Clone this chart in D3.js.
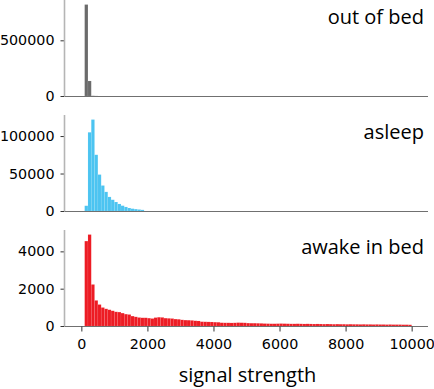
<!DOCTYPE html>
<html><head><meta charset="utf-8">
<script src="https://cdn.jsdelivr.net/npm/d3@7"></script>
<style>html,body{margin:0;padding:0;background:#fff;}svg{display:block;}</style>
</head><body>
<script>
// bins start at 100, width 100
const binStart = 100, binWidth = 100;
const outOfBed = [821000, 135000, 2000, 800];
const asleep = [7000, 105000, 122000, 75000, 48600, 34000, 25500, 18800, 15000, 12000, 9400, 7100, 5400, 4000, 3100, 2500, 2000, 1500];
const awakeInBed = [4550, 4900, 2225, 1370, 1150, 990, 920, 870, 815, 760, 745, 690, 635, 615, 530, 490, 455, 440, 440, 420,
  400, 450, 470, 460, 420, 410, 400, 370, 360, 330, 315, 310, 300, 280, 270, 230, 225, 220, 215, 205,
  200, 175, 170, 170, 165, 170, 180, 175, 170, 155, 150, 150, 145, 140, 130, 125, 120, 120, 125, 130,
  125, 120, 115, 115, 120, 115, 110, 115, 110, 105, 110, 105, 100, 105, 100, 95, 100, 95, 95, 90,
  95, 90, 90, 85, 90, 85, 85, 80, 85, 80, 80, 75, 80, 75, 75, 75, 70, 70, 65];
const panelNames = ["out of bed", "asleep", "awake in bed"];
const yTicks = [[0, 500000], [0, 50000, 100000], [0, 2000, 4000]];
const xTicks = [0, 2000, 4000, 6000, 8000, 10000];
const xLabel = "signal strength";

const W = 434, H = 389;
const svg = d3.select("body").append("svg").attr("width", W).attr("height", H);
const x = d3.scaleLinear().domain([-495, 10495]).range([65, 428]);
const colors = ["#6b6b6b", "#4cc4f1", "#ed1c24"];
const series = [outOfBed, asleep, awakeInBed];
const panelTop = [0, 115, 230], panelH = 96;

series.forEach((vals, p) => {
  const top = panelTop[p], base = top + panelH;
  const y = d3.scaleLinear().domain([0, d3.max(vals) * 1.05]).range([base, top]);
  const g = svg.append("g");
  const data = vals.map((v, i) => ({x0: binStart + i * binWidth, x1: binStart + (i + 1) * binWidth, v}));
  g.selectAll("rect").data(data).join("rect")
    .attr("x", d => x(d.x0)).attr("width", d => x(d.x1) - x(d.x0))
    .attr("y", d => y(d.v)).attr("height", d => base - y(d.v))
    .attr("fill", colors[p]).attr("stroke", "#fff").attr("stroke-opacity", 0.15).attr("stroke-width", 0.5);
  // y axis
  const ya = g.append("g").attr("transform", "translate(64.5,0)")
    .call(d3.axisLeft(y).tickValues(yTicks[p]).tickSize(4).tickPadding(6).tickFormat(d3.format("d")));
  ya.select(".domain").remove();
  ya.selectAll(".tick line").attr("stroke", "#333");
  ya.selectAll(".tick text").attr("font-family", "DejaVu Sans").attr("font-size", 14.3).attr("fill", "#000");
  g.append("line").attr("x1", 64.5).attr("x2", 64.5).attr("y1", top).attr("y2", base)
    .attr("stroke", "#b5b5b5").attr("stroke-width", 1.6);
  // x baseline
  g.append("line").attr("x1", 65).attr("x2", 428).attr("y1", base + 0.5).attr("y2", base + 0.5)
    .attr("stroke", "#707070").attr("stroke-width", 1);
  g.append("text").attr("x", 424).attr("y", top + 24).attr("text-anchor", "end")
    .attr("font-family", "Open Sans").attr("font-size", 20).attr("fill", "#000").text(panelNames[p]);
  if (p === 2) {
    const xa = svg.append("g").attr("transform", `translate(0,${base + 0.5})`)
      .call(d3.axisBottom(x).tickValues(xTicks).tickSize(5).tickPadding(7).tickFormat(d3.format("d")));
    xa.select(".domain").remove();
    xa.selectAll(".tick line").attr("stroke", "#333");
    xa.selectAll(".tick text").attr("font-family", "DejaVu Sans").attr("font-size", 14.3).attr("fill", "#000");
  }
});
svg.append("text").attr("x", 247.5).attr("y", 382).attr("text-anchor", "middle")
  .attr("font-family", "Open Sans").attr("font-size", 20).attr("fill", "#000").text(xLabel);
</script>
</body></html>
